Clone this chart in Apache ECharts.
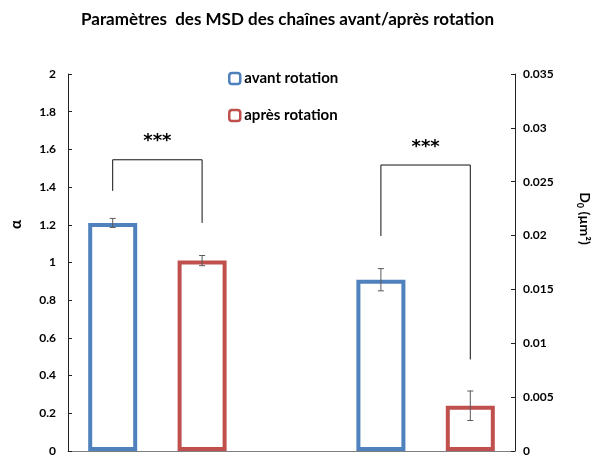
<!DOCTYPE html>
<html>
<head>
<meta charset="utf-8">
<script src="https://cdn.jsdelivr.net/npm/echarts@6/dist/echarts.min.js"></script>
<style>
  html, body { margin: 0; padding: 0; background: #fff; }
  #chart { width: 592px; height: 457px; }
</style>
</head>
<body>
<div id="chart"></div>
<script>
// Five slots on the x axis: two α bars, an empty gap, two D0 bars
const categories = ['α avant', 'α après', '', 'D0 avant', 'D0 après'];
const seriesNames = ['avant rotation', 'après rotation'];

// α (left axis): mean and error
const alphaMeans = [1.21, 1.01];
const alphaErrors = [0.024, 0.027];

// D0 in µm² (right axis): mean and error
const d0Means = [0.0159, 0.0042];
const d0Errors = [0.00103, 0.00137];

// significance brackets: [fromSlot, toSlot, top, leftEnd, rightEnd]
const alphaBracket = [0, 1, 1.545, 1.38, 1.21];
const d0Bracket = [3, 4, 0.02655, 0.01996, 0.0085];
const signifLabel = '***';

const BLUE = '#4F81BD';
const RED = '#C0504D';
const FONT = 'Lato, "Liberation Sans", sans-serif';

function slotData(slot, value) {
  return categories.map((c, i) => (i === slot ? value : '-'));
}

function barSeries(name, slot, value, axis, color) {
  return {
    type: 'bar',
    name: name,
    yAxisIndex: axis,
    data: slotData(slot, value),
    barWidth: 49,
    barGap: '-100%',
    itemStyle: { color: '#fff', borderColor: color, borderWidth: 4 },
    emphasis: { disabled: true },
    z: 2
  };
}

function errorSeries(axis, rows) {
  return {
    type: 'custom',
    yAxisIndex: axis,
    data: rows,
    encode: { x: 0, y: [1, 2] },
    z: 5,
    silent: true,
    renderItem: function (params, api) {
      const x = api.value(0);
      const lo = api.coord([x, api.value(1)]);
      const hi = api.coord([x, api.value(2)]);
      const w = 3;
      const style = { stroke: '#595959', lineWidth: 1, fill: null };
      return {
        type: 'group',
        children: [
          { type: 'line', shape: { x1: lo[0], y1: lo[1], x2: hi[0], y2: hi[1] }, style: style },
          { type: 'line', shape: { x1: lo[0] - w, y1: lo[1], x2: lo[0] + w, y2: lo[1] }, style: style },
          { type: 'line', shape: { x1: hi[0] - w, y1: hi[1], x2: hi[0] + w, y2: hi[1] }, style: style }
        ]
      };
    }
  };
}

function bracketSeries(axis, row) {
  return {
    type: 'custom',
    yAxisIndex: axis,
    data: [row],
    encode: { x: [0, 1], y: [2, 3, 4] },
    z: 6,
    silent: true,
    renderItem: function (params, api) {
      const x0 = api.value(0), x1 = api.value(1);
      const a = api.coord([x0, api.value(3)]);
      const b = api.coord([x0, api.value(2)]);
      const c = api.coord([x1, api.value(2)]);
      const d = api.coord([x1, api.value(4)]);
      return {
        type: 'group',
        children: [
          {
            type: 'polyline',
            shape: { points: [a, b, c, d] },
            style: { stroke: '#111', lineWidth: 1, fill: null }
          },
          {
            type: 'text',
            x: (b[0] + c[0]) / 2,
            y: b[1] - 18,
            style: {
              text: signifLabel,
              fill: '#000',
              font: 'bold 18px "DejaVu Sans", sans-serif',
              align: 'center',
              verticalAlign: 'middle'
            }
          }
        ]
      };
    }
  };
}

const chart = echarts.init(document.getElementById('chart'));

const labelStyle = { fontFamily: FONT, fontWeight: 'bold', fontSize: 12, color: '#000' };

chart.setOption({
  animation: false,
  backgroundColor: '#fff',
  title: {
    text: 'Paramètres  des MSD des chaînes avant/après rotation',
    left: 76,
    top: 6,
    textStyle: { fontFamily: FONT, fontWeight: 'bold', fontSize: 17, color: '#000' }
  },
  legend: {
    data: seriesNames,
    orient: 'vertical',
    left: 228,
    top: 71,
    padding: 0,
    itemWidth: 11,
    itemHeight: 11,
    itemGap: 22,
    itemStyle: { color: '#fff', borderWidth: 2.5 },
    textStyle: { fontFamily: FONT, fontWeight: 'bold', fontSize: 15, color: '#000', padding: [0, 0, 0, -1] },
    selectedMode: false
  },
  grid: { left: 68, right: 77, top: 74, bottom: 6, containLabel: false, outerBoundsMode: 'none' },
  xAxis: {
    type: 'category',
    data: categories,
    axisLine: { lineStyle: { color: '#7f7f7f', width: 1 } },
    axisTick: { show: false },
    axisLabel: { show: false },
    splitLine: { show: false }
  },
  yAxis: [
    {
      type: 'value',
      min: 0,
      max: 2,
      interval: 0.2,
      position: 'left',
      name: 'α',
      nameLocation: 'middle',
      nameGap: 44,
      nameRotate: 90,
      nameTextStyle: { fontFamily: FONT, fontWeight: 'bold', fontSize: 15, color: '#000', padding: [0, 0, 0, 76] },
      axisLine: { show: true, lineStyle: { color: '#222', width: 1 } },
      axisTick: { show: true, inside: true, length: 4, lineStyle: { color: '#222' } },
      axisLabel: Object.assign({ margin: 12 }, labelStyle),
      splitLine: { show: false }
    },
    {
      type: 'value',
      min: 0,
      max: 0.035,
      interval: 0.005,
      position: 'right',
      name: '{b|D}{sub|0}{b| (µm²)}',
      nameLocation: 'middle',
      nameGap: 60,
      nameRotate: -90,
      nameTextStyle: {
        padding: [0, 88, 0, 0],
        rich: {
          b: { fontFamily: FONT, fontWeight: 'bold', fontSize: 14, color: '#000', lineHeight: 20 },
          sub: { fontFamily: FONT, fontWeight: 'bold', fontSize: 9, color: '#000', lineHeight: 9, verticalAlign: 'bottom' }
        }
      },
      axisLine: { show: true, lineStyle: { color: '#222', width: 1 } },
      axisTick: { show: true, inside: true, length: 4, lineStyle: { color: '#222' } },
      axisLabel: Object.assign({ margin: 8 }, labelStyle),
      splitLine: { show: false }
    }
  ],
  series: [
    barSeries(seriesNames[0], 0, alphaMeans[0], 0, BLUE),
    barSeries(seriesNames[1], 1, alphaMeans[1], 0, RED),
    barSeries(seriesNames[0], 3, d0Means[0], 1, BLUE),
    barSeries(seriesNames[1], 4, d0Means[1], 1, RED),
    errorSeries(0, alphaMeans.map((m, i) => [i, m - alphaErrors[i], m + alphaErrors[i]])),
    errorSeries(1, d0Means.map((m, i) => [i + 3, m - d0Errors[i], m + d0Errors[i]])),
    bracketSeries(0, alphaBracket),
    bracketSeries(1, d0Bracket)
  ]
});
</script>
</body>
</html>
